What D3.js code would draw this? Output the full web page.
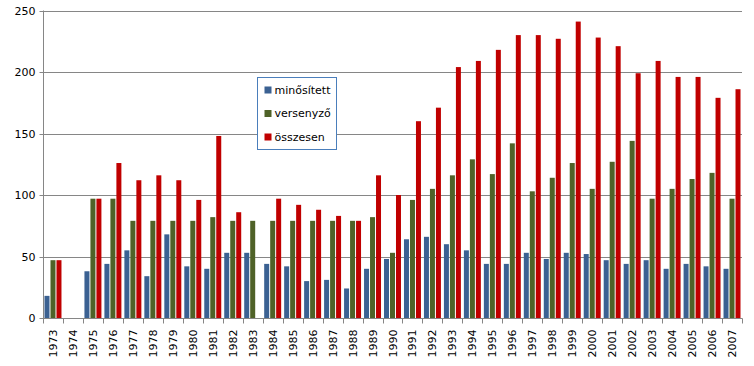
<!DOCTYPE html>
<html><head><meta charset="utf-8">
<script src="https://cdn.jsdelivr.net/npm/d3@7"></script>
<style>body{margin:0;background:#fff}svg{display:block}text{font-family:"DejaVu Sans",sans-serif;fill:#000}</style>
</head><body><svg id="c" width="754" height="366"></svg>
<script>
const years = ["1973","1974","1975","1976","1977","1978","1979","1980","1981","1982","1983","1984","1985","1986","1987","1988","1989","1990","1991","1992","1993","1994","1995","1996","1997","1998","1999","2000","2001","2002","2003","2004","2005","2006","2007"];
const minositett = [18,0,38,44,55,34,68,42,40,53,53,44,42,30,31,24,40,48,64,66,60,55,44,44,53,48,53,52,47,44,47,40,44,42,40];
const versenyzo = [47,0,97,97,79,79,79,79,82,79,79,79,79,79,79,79,82,53,96,105,116,129,117,142,103,114,126,105,127,144,97,105,113,118,97];
const osszesen = [47,0,97,126,112,116,112,96,148,86,0,97,92,88,83,79,116,100,160,171,204,209,218,230,230,227,241,228,221,199,209,196,196,179,186];
const seriesNames = ["minősített","versenyző","összesen"];
const colors = ["#3b6192","#4f6228","#c00000"];
const yTicks = [0,50,100,150,200,250];

const svg = d3.select("#c");
const L = 43, R = 742, T = 10.5, B = 318;
const x = d3.scaleBand().domain(years).range([L, R]).padding(0);
const bw = x.bandwidth();
const xs = d3.scaleBand().domain([0,1,2]).range([1.5, bw - 1.5]).paddingInner(1/6).paddingOuter(0);
const y = d3.scaleLinear().domain([0,250]).range([B, T]);

// gridlines
svg.append("g").selectAll("line").data(yTicks.filter(d=>d>0)).join("line")
  .attr("x1", L).attr("x2", R)
  .attr("y1", d=>Math.round(y(d))+0.5).attr("y2", d=>Math.round(y(d))+0.5)
  .attr("stroke", "#868686").attr("stroke-width", 1);

// bars
const data = [minositett, versenyzo, osszesen];
data.forEach((arr, si) => {
  svg.append("g").selectAll("rect").data(years.map((yr,i)=>({yr, v:arr[i]})).filter(d=>d.v>0)).join("rect")
    .attr("x", d => x(d.yr) + xs(si))
    .attr("width", xs.bandwidth())
    .attr("y", d => y(d.v))
    .attr("height", d => y(0) - y(d.v))
    .attr("fill", colors[si]);
});

// y axis
const yAxis = svg.append("g").attr("transform", `translate(${L+0.5},0)`)
  .call(d3.axisLeft(y).tickValues(yTicks).tickSize(4).tickPadding(4).tickSizeOuter(0));
yAxis.select(".domain").attr("stroke", "#868686").attr("d", `M0,${T}V${B}`);
yAxis.selectAll(".tick line").attr("stroke", "#868686");
yAxis.selectAll(".tick").attr("transform", d => `translate(0,${Math.round(y(d))+0.5})`);
yAxis.selectAll("text").attr("font-size", "11px").attr("font-family", "DejaVu Sans").attr("fill", "#000").attr("dy", "0.35em");

// x axis
const xg = svg.append("g").attr("transform", `translate(0,${B+0.5})`);
xg.append("line").attr("x1", L).attr("x2", R+0.5).attr("stroke", "#868686");
xg.selectAll("line.t").data(years.concat(["end"])).join("line").attr("class","t")
  .attr("x1", (d,i)=>Math.round(L + i*bw)+0.5).attr("x2", (d,i)=>Math.round(L + i*bw)+0.5)
  .attr("y1", 0).attr("y2", 5).attr("stroke", "#868686");
xg.selectAll("text").data(years).join("text")
  .attr("transform", d => `translate(${x(d)+bw/2+4},11) rotate(-90)`)
  .attr("text-anchor", "end").attr("font-size", "11px").text(d=>d);

// legend
const lg = svg.append("g").attr("transform", "translate(257.5,77.5)");
lg.append("rect").attr("width", 79).attr("height", 72).attr("fill", "#fff").attr("stroke", "#4a7ebb");
seriesNames.forEach((n,i) => {
  const cy = 12.5 + i*23.5;
  lg.append("rect").attr("x", 7).attr("y", cy-3.5).attr("width", 7).attr("height", 7).attr("fill", colors[i]);
  lg.append("text").attr("x", 17).attr("y", cy).attr("dy", "0.35em").attr("font-size", "11px").text(n);
});
</script></body></html>
